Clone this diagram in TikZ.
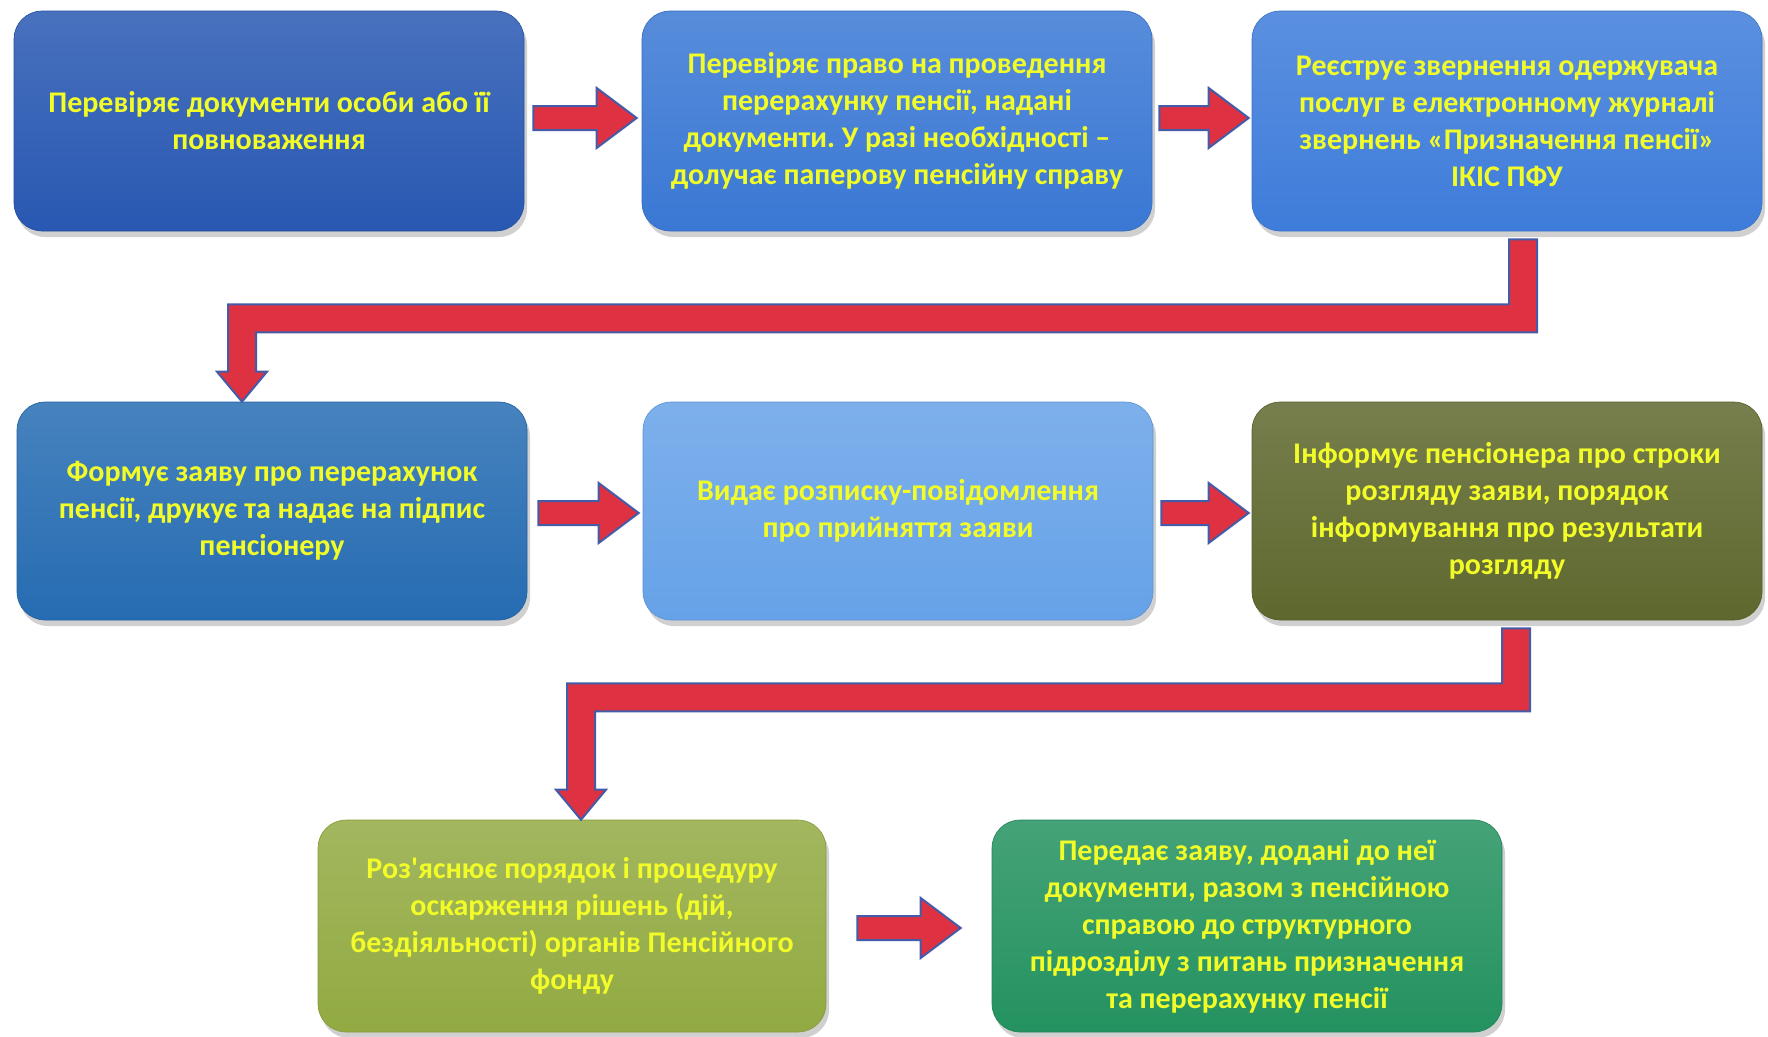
\documentclass[tikz,border=0pt]{standalone}
\usepackage{fontspec}
\setmainfont{Carlito}[Ligatures=TeXOff]
\usetikzlibrary{calc,shadows}
\definecolor{txt}{RGB}{242,252,40}
\definecolor{cA}{RGB}{40,88,178}
\definecolor{cB}{RGB}{58,120,212}
\definecolor{cC}{RGB}{62,124,218}
\definecolor{cD}{RGB}{38,108,178}
\definecolor{cE}{RGB}{102,162,232}
\definecolor{cF}{RGB}{94,104,46}
\definecolor{cG}{RGB}{146,170,66}
\definecolor{cH}{RGB}{36,146,96}
\definecolor{arrred}{RGB}{222,50,66}
\definecolor{arrblue}{RGB}{68,92,168}
\tikzset{
  box/.style={rounded corners=28pt, minimum width=510pt, minimum height=220pt,
    align=center, text=txt, font=\bfseries\fontsize{30}{37}\selectfont,
    draw=#1!90!black, line width=0.6pt, top color=#1!85!white, bottom color=#1,
    drop shadow={opacity=0.3, shadow xshift=3pt, shadow yshift=-6pt, fill=black!60}},
  blockarrow/.style={fill=arrred, draw=arrblue, line width=2pt, line join=miter}
}
\newcommand\harrow[2]{%
  \draw[blockarrow] ($(#1)+(0,-12)$) -- ($(#2)+(-40,-12)$) -- ($(#2)+(-40,-30)$) -- (#2)
    -- ($(#2)+(-40,30)$) -- ($(#2)+(-40,12)$) -- ($(#1)+(0,12)$) -- cycle;}
\newcommand\elbow[3]{%
  \draw[blockarrow] ($(#1)+(14,0)$) -- ($(#1 |- #3)+(14,14)$) -- ($(#2 |- #3)+(14,14)$)
    -- ($(#2)+(14,-30)$) -- ($(#2)+(25,-30)$) -- (#2) -- ($(#2)+(-25,-30)$) -- ($(#2)+(-14,-30)$)
    -- ($(#2 |- #3)+(-14,-14)$) -- ($(#1 |- #3)+(-14,-14)$) -- ($(#1)+(-14,0)$) -- cycle;}
\begin{document}
\frenchspacing
\begin{tikzpicture}[x=1pt,y=-1pt]
\useasboundingbox (0,0) rectangle (1768,1036);
\fill[white] (0,0) rectangle (1768,1036);
% row 1
\node[box=cA] (b1) at (269,121) {Перевіряє документи особи або її\\повноваження};
\node[box=cB] (b2) at (897,121) {Перевіряє право на проведення\\перерахунку пенсії, надані\\документи. У разі необхідності –\\долучає паперову пенсійну справу};
\node[box=cC] (b3) at (1507,121) {Реєструє звернення одержувача\\послуг в електронному журналі\\звернень «Призначення пенсії»\\ІКІС ПФУ};
% row 2
\node[box=cD, minimum height=218pt] (b4) at (272,511) {Формує заяву про перерахунок\\пенсії, друкує та надає на підпис\\пенсіонеру};
\node[box=cE, minimum height=218pt] (b5) at (898,511) {Видає розписку-повідомлення\\про прийняття заяви};
\node[box=cF, minimum height=218pt] (b6) at (1507,511) {Інформує пенсіонера про строки\\розгляду заяви, порядок\\інформування про результати\\розгляду};
% row 3
\node[box=cG, minimum height=212pt, minimum width=508pt] (b7) at (572,926) {Роз'яснює порядок і процедуру\\оскарження рішень (дій,\\бездіяльності) органів Пенсійного\\фонду};
\node[box=cH, minimum height=212pt] (b8) at (1247,926) {Передає заяву, додані до неї\\документи, разом з пенсійною\\справою до структурного\\підрозділу з питань призначення\\та перерахунку пенсії};
% horizontal arrows
\coordinate (a1s) at ($(b1.east)+(9,-3)$);  \coordinate (a1e) at ($(b2.west)+(-5,-3)$);
\coordinate (a2s) at ($(b2.east)+(7,-3)$);  \coordinate (a2e) at ($(b3.west)+(-3,-3)$);
\coordinate (a3s) at ($(b4.east)+(11,2)$);  \coordinate (a3e) at ($(b5.west)+(-4,2)$);
\coordinate (a4s) at ($(b5.east)+(8,2)$);   \coordinate (a4e) at ($(b6.west)+(-3,2)$);
\coordinate (a5s) at ($(b7.east)+(31,2)$);  \coordinate (a5e) at ($(b8.west)+(-31,2)$);
\harrow{a1s}{a1e}
\harrow{a2s}{a2e}
\harrow{a3s}{a3e}
\harrow{a4s}{a4e}
\harrow{a5s}{a5e}
% elbow arrows
\coordinate (e1s) at ($(b3.south)+(16,8)$);
\coordinate (e1m) at ($(b3.south)+(0,87)$);
\coordinate (e1t) at ($(b4.north)+(-30,0)$);
\elbow{e1s}{e1t}{e1m}
\coordinate (e2s) at ($(b6.south)+(9,8)$);
\coordinate (e2m) at ($(b6.south)+(0,77)$);
\coordinate (e2t) at ($(b7.north)+(9,0)$);
\elbow{e2s}{e2t}{e2m}
\end{tikzpicture}
\end{document}
